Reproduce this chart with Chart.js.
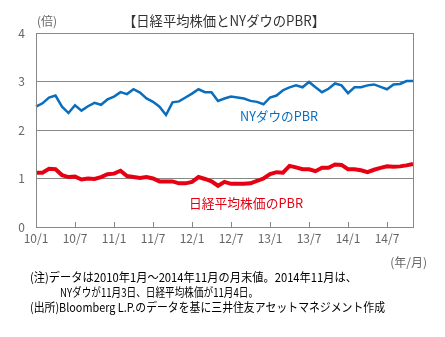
<!DOCTYPE html>
<html>
<head>
<meta charset="utf-8">
<script src="https://cdn.jsdelivr.net/npm/chart.js@4"></script>
<style>
  html, body { margin: 0; padding: 0; background: #fff; }
  #wrap { width: 445px; height: 337px; position: relative; }
</style>
</head>
<body>
<div id="wrap"><canvas id="graph-pbr" width="445" height="337"></canvas></div>
<script>
// months 2010/1 - 2014/11
const months = [];
for (let y = 10; y <= 14; y++) {
  for (let m = 1; m <= 12; m++) {
    if (y === 14 && m > 11) break;
    months.push(y + '/' + m);
  }
}

const nyDow = [
  2.48, 2.55, 2.67, 2.71, 2.48, 2.35, 2.51, 2.40, 2.49, 2.56, 2.52, 2.63,
  2.69, 2.78, 2.74, 2.84, 2.77, 2.65, 2.58, 2.48, 2.31, 2.57, 2.59, 2.67,
  2.75, 2.84, 2.78, 2.78, 2.60, 2.65, 2.69, 2.67, 2.65, 2.60, 2.58, 2.53,
  2.67, 2.71, 2.82, 2.88, 2.92, 2.88, 2.99, 2.88, 2.78, 2.85, 2.96, 2.92,
  2.76, 2.88, 2.88, 2.92, 2.94, 2.89, 2.84, 2.94, 2.95, 3.01, 3.01
];

const nikkei = [
  1.12, 1.12, 1.20, 1.19, 1.07, 1.03, 1.04, 0.98, 1.00, 0.99, 1.03, 1.09,
  1.10, 1.16, 1.05, 1.03, 1.01, 1.03, 1.00, 0.94, 0.94, 0.94, 0.90, 0.90,
  0.93, 1.03, 0.99, 0.94, 0.85, 0.93, 0.89, 0.89, 0.89, 0.90, 0.95, 1.00,
  1.09, 1.13, 1.12, 1.26, 1.23, 1.19, 1.19, 1.15, 1.22, 1.22, 1.29, 1.28,
  1.19, 1.19, 1.17, 1.13, 1.18, 1.22, 1.25, 1.24, 1.25, 1.27, 1.30
];

const xTickMonths = ['1', '7'];

const FONT = '"Noto Sans CJK JP", "Noto Sans", sans-serif';

// extra text, border and inner x ticks
const decorPlugin = {
  id: 'decor',
  afterDraw(chart) {
    const ctx = chart.ctx;
    const area = chart.chartArea;
    const x = chart.scales.x;
    ctx.save();
    // frame
    ctx.strokeStyle = '#888';
    ctx.lineWidth = 1;
    ctx.strokeRect(Math.round(area.left) + 0.5, Math.round(area.top) + 0.5,
      Math.round(area.right - area.left), Math.round(area.bottom - area.top));
    // small ticks pointing up from the bottom
    months.forEach((lab, i) => {
      const m = lab.split('/')[1];
      if (i > 0 && xTickMonths.includes(m)) {
        const px = Math.round(x.getPixelForValue(i)) + 0.5;
        ctx.beginPath();
        ctx.moveTo(px, area.bottom);
        ctx.lineTo(px, area.bottom - 5);
        ctx.stroke();
      }
    });

    ctx.textBaseline = 'middle';
    // title
    ctx.fillStyle = '#333';
    ctx.font = '14px ' + FONT;
    ctx.textAlign = 'center';
    ctx.fillText('【日経平均株価とNYダウのPBR】', 224, 21, 202);
    // unit
    ctx.fillStyle = '#666';
    ctx.font = '12px ' + FONT;
    ctx.textAlign = 'left';
    ctx.fillText('(倍)', 37, 21);
    ctx.textAlign = 'right';
    ctx.fillText('(年/月)', 427, 262);

    // series labels
    ctx.textAlign = 'left';
    ctx.font = '13px ' + FONT;
    ctx.fillStyle = '#0a6ebd';
    ctx.fillText('NYダウのPBR', 240, 116, 78);
    ctx.fillStyle = '#e60012';
    ctx.fillText('日経平均株価のPBR', 189, 203, 114);

    // notes
    ctx.fillStyle = '#000';
    ctx.font = '12px ' + FONT;
    ctx.fillText('(注)データは2010年1月～2014年11月の月末値。2014年11月は、', 30, 277, 327);
    ctx.fillText('NYダウが11月3日、日経平均株価が11月4日。', 60, 292, 198);
    ctx.fillText('(出所)Bloomberg L.P.のデータを基に三井住友アセットマネジメント作成', 30, 307, 355);
    ctx.restore();
  }
};

var graphPbr = document.getElementById('graph-pbr').getContext('2d');
var pbr = new Chart(graphPbr, {
  type: 'line',
  data: {
    labels: months,
    datasets: [{
      label: 'NYダウのPBR',
      data: nyDow,
      borderColor: '#0a6ebd',
      borderWidth: 2.5,
      pointRadius: 0,
      tension: 0
    }, {
      label: '日経平均株価のPBR',
      data: nikkei,
      borderColor: '#e60012',
      borderWidth: 4,
      pointRadius: 0,
      tension: 0
    }]
  },
  options: {
    responsive: false,
    animation: false,
    layout: { padding: { top: 33, right: 32, bottom: 88, left: 0 } },
    plugins: {
      legend: { display: false },
      tooltip: { enabled: false }
    },
    scales: {
      x: {
        offset: false,
        grid: { display: false, drawTicks: false },
        border: { display: false },
        afterFit(scale) { scale.height = 22; },
        ticks: {
          autoSkip: false,
          maxRotation: 0,
          padding: 4,
          color: '#666',
          font: { family: FONT, size: 12 },
          callback(val, i) {
            const lab = months[i];
            return xTickMonths.includes(lab.split('/')[1]) ? lab : '';
          }
        }
      },
      y: {
        min: 0,
        max: 4,
        afterFit(scale) { scale.width = 36; },
        grid: { color: '#888', drawTicks: false },
        border: { display: false },
        ticks: {
          stepSize: 1,
          padding: 11,
          color: '#666',
          font: { family: FONT, size: 12 }
        }
      }
    }
  },
  plugins: [decorPlugin]
});
</script>
</body>
</html>
